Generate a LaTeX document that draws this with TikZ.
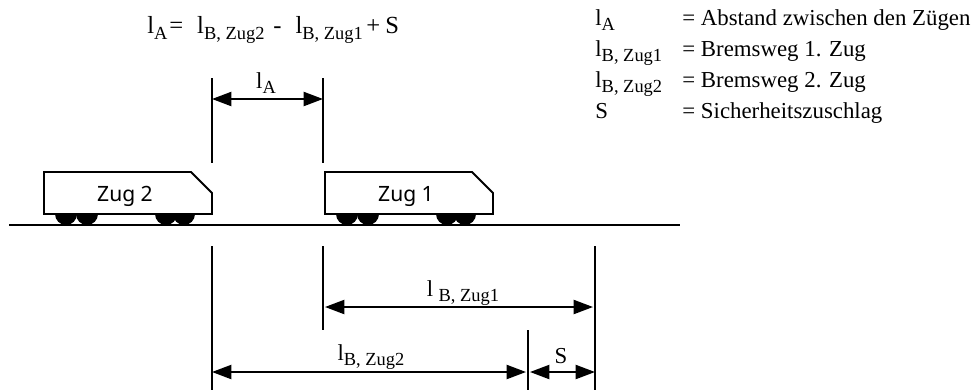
\documentclass[tikz,border=0pt]{standalone}
\usepackage{fontspec}
\setmainfont{Liberation Serif}
\setsansfont{Noto Sans}
\usetikzlibrary{arrows.meta}
\newcommand{\lsub}[1]{l\raisebox{-0.25em}{\fontsize{10.5}{10.5}\selectfont #1}}
\tikzset{
  marker/.style={line width=1.1pt},
  dimension/.style={line width=1.1pt,{Triangle[length=11pt,width=8pt]}-{Triangle[length=11pt,width=8pt]}},
  legend/.style={anchor=base west,inner sep=0pt,font=\fontsize{13}{15}\selectfont},
  dimlabel/.style={anchor=base,inner sep=0pt,font=\fontsize{13}{15}\selectfont},
  trainlabel/.style={font=\sffamily\fontsize{12}{14}\selectfont,inner sep=0pt}
}

\begin{document}
\begin{tikzpicture}[x=0.02cm,y=-0.02cm]
  % Background
  \useasboundingbox (0, 0) rectangle (977, 390);

  % Formula
  \node[legend,font=\fontsize{14}{16}\selectfont] (formula) at(147, 33) {\lsub{A}\hspace{1pt}=\hspace{8pt}\lsub{B, Zug2}\hspace{5pt}-\hspace{8pt}\lsub{B, Zug1}\hspace{2pt}+\hspace{3pt}S};

  % Legend
  \node[legend] (symA) at(595, 25) {\lsub{A}};
  \node[legend] (symOne) at(595, 56) {\lsub{B, Zug1}};
  \node[legend] (symTwo) at(595, 87) {\lsub{B, Zug2}};
  \node[legend] (symS) at(595, 118) {S};
  \node[legend] (textA) at(682, 25) {= Abstand zwischen den Zügen};
  \node[legend] (textOne) at(682, 56) {= Bremsweg 1. Zug};
  \node[legend] (textTwo) at(682, 87) {= Bremsweg 2. Zug};
  \node[legend] (textS) at(682, 118) {= Sicherheitszuschlag};

  % Trains
  \foreach \dx/\name in {0/2, 281/1} {
    \fill (\dx+55, 214) arc (180:0:11);
    \fill (\dx+76, 214) arc (180:0:11);
    \fill (\dx+155, 214) arc (180:0:11);
    \fill (\dx+173, 214) arc (180:0:11);
    \draw[marker,fill=white] (\dx+44, 172) -- (\dx+191, 172) -- (\dx+212, 193) -- (\dx+212, 214) -- (\dx+44, 214) -- cycle;
    \node[trainlabel] (train\name) at(\dx+125, 196) {Zug \name};
  }

  % Track
  \coordinate (trackL) at(9, 225);
  \coordinate (trackR) at(680, 225);
  \draw[marker] (trackL) -- (trackR);

  % Upper markers
  \coordinate (upAt) at(212, 78);
  \coordinate (upAb) at(212, 163);
  \coordinate (upBt) at(323, 78);
  \coordinate (upBb) at(323, 163);
  \coordinate (gapL) at(212, 99);
  \coordinate (gapR) at(323, 99);
  \draw[marker] (upAt) -- (upAb);
  \draw[marker] (upBt) -- (upBb);
  \draw[dimension] (gapL) -- (gapR);
  \node[dimlabel] (labelA) at(266, 88) {\lsub{A}};

  % Lower markers
  \coordinate (lowAt) at(212, 246);
  \coordinate (lowAb) at(212, 390);
  \coordinate (lowBt) at(323, 246);
  \coordinate (lowBb) at(323, 330);
  \coordinate (lowCt) at(595, 246);
  \coordinate (lowCb) at(595, 390);
  \coordinate (lowDt) at(528, 330);
  \coordinate (lowDb) at(528, 390);
  \draw[marker] (lowAt) -- (lowAb);
  \draw[marker] (lowBt) -- (lowBb);
  \draw[marker] (lowCt) -- (lowCb);
  \draw[marker] (lowDt) -- (lowDb);

  \coordinate (oneL) at(325, 307);
  \coordinate (oneR) at(593, 307);
  \coordinate (twoL) at(212, 372);
  \coordinate (twoR) at(526, 372);
  \coordinate (safeL) at(530, 372);
  \coordinate (safeR) at(595, 372);
  \draw[dimension] (oneL) -- (oneR);
  \draw[dimension] (twoL) -- (twoR);
  \draw[dimension] (safeL) -- (safeR);
  \node[dimlabel] (labelOne) at(463, 296) {l\hspace{3pt}\raisebox{-0.25em}{\fontsize{10.5}{10.5}\selectfont B, Zug1}};
  \node[dimlabel] (labelTwo) at(371, 360) {\lsub{B, Zug2}};
  \node[dimlabel] (labelS) at(561, 363) {S};
\end{tikzpicture}
\end{document}
